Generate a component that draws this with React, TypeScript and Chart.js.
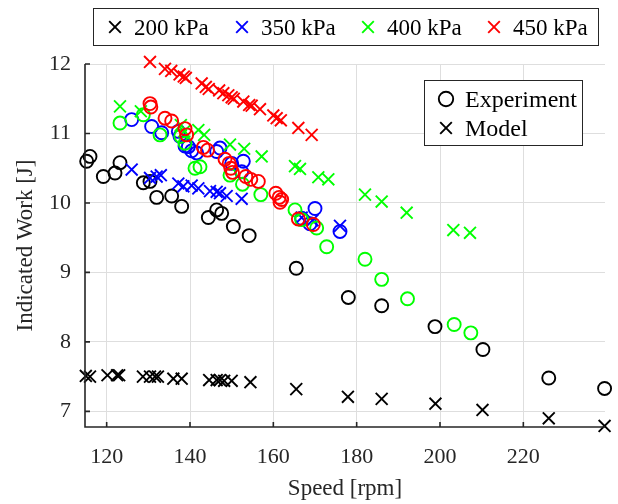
import React, { useEffect, useRef } from "react";
import { Chart, registerables } from "chart.js";

Chart.register(...registerables);

const FONT = '"Liberation Serif", "Times New Roman", serif';
const AXIS_COLOR = "#262626";

const xTicks = [120, 140, 160, 180, 200, 220];
const yTicks = [7, 8, 9, 10, 11, 12];
const xTitle = "Speed [rpm]";
const yTitle = "Indicated Work [J]";
const pressureLabels = ["200 kPa", "350 kPa", "400 kPa", "450 kPa"];
const seriesColors = ["#000000", "#0000ff", "#00ff00", "#ff0000"];
const typeLabels = ["Experiment", "Model"];

const speed200Exp = [115.2, 116.0, 119.2, 122.0, 123.2, 128.8, 130.4, 132.0, 135.6, 138.0, 144.4, 146.4, 147.6, 150.4, 154.2, 165.5, 178.0, 186.0, 198.8, 210.3, 226.1, 239.5];
const work200Exp = [10.60, 10.67, 10.38, 10.43, 10.58, 10.29, 10.31, 10.08, 10.10, 9.95, 9.79, 9.90, 9.85, 9.66, 9.53, 9.06, 8.64, 8.52, 8.22, 7.89, 7.48, 7.33];
const speed200Model = [115.0, 116.0, 120.2, 122.5, 123.0, 128.7, 130.4, 131.6, 132.3, 136.0, 138.0, 144.6, 146.4, 147.2, 148.2, 150.0, 154.5, 165.5, 177.9, 186.0, 198.9, 210.2, 226.1, 239.5];
const work200Model = [7.51, 7.50, 7.52, 7.52, 7.52, 7.50, 7.50, 7.50, 7.50, 7.47, 7.47, 7.45, 7.45, 7.45, 7.44, 7.44, 7.42, 7.32, 7.21, 7.18, 7.11, 7.02, 6.90, 6.79];

const speed350Exp = [126.0, 130.8, 133.2, 137.2, 137.6, 138.8, 139.6, 140.4, 141.6, 146.4, 147.2, 150.0, 152.4, 152.8, 166.8, 168.8, 170.0, 176.0];
const work350Exp = [11.20, 11.10, 11.01, 11.03, 10.96, 10.82, 10.81, 10.75, 10.72, 10.74, 10.79, 10.57, 10.45, 10.60, 9.78, 9.70, 9.92, 9.59];
const speed350Model = [126.0, 130.4, 132.0, 133.0, 137.2, 138.4, 140.4, 142.0, 144.8, 146.4, 147.2, 148.8, 152.4, 166.8, 169.4, 176.0];
const work350Model = [10.48, 10.36, 10.38, 10.40, 10.28, 10.24, 10.25, 10.21, 10.17, 10.16, 10.14, 10.10, 10.06, 9.79, 9.75, 9.67];

const speed400Exp = [123.2, 128.8, 132.8, 137.8, 138.8, 141.2, 142.4, 149.6, 152.6, 157.0, 165.2, 166.8, 170.4, 172.8, 182.0, 186.0, 192.2, 203.4, 207.4];
const work400Exp = [11.15, 11.27, 10.98, 10.96, 10.86, 10.50, 10.52, 10.40, 10.27, 10.12, 9.90, 9.76, 9.64, 9.37, 9.19, 8.90, 8.62, 8.25, 8.13];
const speed400Model = [123.2, 128.2, 137.8, 138.6, 142.0, 143.4, 149.6, 153.0, 157.2, 165.2, 166.4, 170.8, 173.2, 182.0, 186.0, 192.0, 203.2, 207.2];
const work400Model = [11.39, 11.32, 11.12, 11.03, 11.05, 10.98, 10.84, 10.78, 10.67, 10.53, 10.49, 10.37, 10.34, 10.12, 10.02, 9.86, 9.61, 9.57];

const speed450Exp = [130.4, 130.6, 134.0, 135.6, 138.8, 139.2, 143.2, 144.2, 148.4, 149.4, 149.8, 150.2, 153.4, 154.6, 156.4, 160.6, 161.4, 161.6, 162.0, 166.0, 169.6];
const work450Exp = [11.43, 11.38, 11.22, 11.18, 11.07, 10.98, 10.80, 10.76, 10.63, 10.57, 10.50, 10.44, 10.38, 10.34, 10.31, 10.14, 10.08, 10.01, 10.05, 9.77, 9.69];
const speed450Model = [130.4, 134.0, 135.5, 137.5, 138.5, 139.0, 142.8, 143.8, 144.5, 147.0, 148.0, 149.2, 150.0, 150.5, 152.8, 154.2, 154.8, 156.8, 160.0, 160.8, 161.8, 166.0, 169.2];
const work450Model = [12.03, 11.93, 11.90, 11.85, 11.82, 11.80, 11.72, 11.67, 11.64, 11.62, 11.58, 11.55, 11.52, 11.50, 11.46, 11.41, 11.40, 11.35, 11.26, 11.22, 11.19, 11.08, 10.98];

const X_MIN = 114.8;
const X_MAX = 239.6;
const Y_MIN = 6.775;
const Y_MAX = 12;

const CIRCLE_R = 6.5;
const CROSS_R = 8.4;
const MARK_W = 1.9;

const toPoints = (xs: number[], ys: number[]) => xs.map((v, i) => ({ x: v, y: ys[i] }));

const groups = [
  [speed200Exp, work200Exp, speed200Model, work200Model],
  [speed350Exp, work350Exp, speed350Model, work350Model],
  [speed400Exp, work400Exp, speed400Model, work400Model],
  [speed450Exp, work450Exp, speed450Model, work450Model],
];

function drawCross(ctx: CanvasRenderingContext2D, x: number, y: number, h: number) {
  ctx.beginPath();
  ctx.moveTo(x - h, y - h);
  ctx.lineTo(x + h, y + h);
  ctx.moveTo(x + h, y - h);
  ctx.lineTo(x - h, y + h);
  ctx.stroke();
}

const decorPlugin = {
  id: "decor",
  beforeDraw(chart: any) {
    const { ctx, width, height } = chart;
    ctx.save();
    ctx.fillStyle = "#ffffff";
    ctx.fillRect(0, 0, width, height);
    ctx.restore();
  },
  afterDraw(chart: any) {
    const { ctx, chartArea, scales } = chart;
    const { left, right, top, bottom } = chartArea;
    ctx.save();
    // axes
    ctx.strokeStyle = AXIS_COLOR;
    ctx.lineWidth = 1.6;
    ctx.beginPath();
    ctx.moveTo(left, top);
    ctx.lineTo(left, bottom);
    ctx.lineTo(right, bottom);
    ctx.stroke();
    ctx.beginPath();
    for (const v of xTicks) {
      const px = scales.x.getPixelForValue(v);
      ctx.moveTo(px, bottom);
      ctx.lineTo(px, bottom - 5);
    }
    for (const v of yTicks) {
      const py = scales.y.getPixelForValue(v);
      ctx.moveTo(left, py);
      ctx.lineTo(left + 5, py);
    }
    ctx.stroke();

    // top legend
    ctx.fillStyle = "#ffffff";
    ctx.fillRect(93.5, 8.5, 505, 37);
    ctx.strokeStyle = AXIS_COLOR;
    ctx.lineWidth = 1;
    ctx.strokeRect(93.5, 8.5, 505, 37);
    ctx.font = `23px ${FONT}`;
    ctx.textBaseline = "alphabetic";
    ctx.textAlign = "left";
    const markerX = [115, 242, 368, 494];
    pressureLabels.forEach((lab, i) => {
      ctx.strokeStyle = seriesColors[i];
      ctx.lineWidth = MARK_W;
      drawCross(ctx, markerX[i], 27, 5.8);
      ctx.fillStyle = "#000000";
      ctx.fillText(lab, markerX[i] + 19, 35);
    });

    // inner legend
    ctx.fillStyle = "#ffffff";
    ctx.fillRect(424.5, 80.5, 158, 65);
    ctx.strokeStyle = AXIS_COLOR;
    ctx.lineWidth = 1;
    ctx.strokeRect(424.5, 80.5, 158, 65);
    ctx.strokeStyle = "#000000";
    ctx.lineWidth = MARK_W;
    ctx.beginPath();
    ctx.arc(446, 99, 7.2, 0, Math.PI * 2);
    ctx.stroke();
    drawCross(ctx, 446, 128, 5.8);
    ctx.fillStyle = "#000000";
    ctx.font = `24px ${FONT}`;
    ctx.fillText(typeLabels[0], 465, 107);
    ctx.fillText(typeLabels[1], 465, 136);
    ctx.restore();
  },
};

export default function App() {
  const ref = useRef<HTMLCanvasElement | null>(null);

  useEffect(() => {
    const canvas = ref.current;
    if (!canvas) return;
    const datasets: any[] = [];
    groups.forEach((g, i) => {
      datasets.push({
        label: `${pressureLabels[i]} ${typeLabels[0]}`,
        data: toPoints(g[0], g[1]),
        pointStyle: "circle",
        pointRadius: CIRCLE_R,
        pointBorderWidth: MARK_W,
        borderColor: seriesColors[i],
        pointBorderColor: seriesColors[i],
        pointBackgroundColor: "rgba(0,0,0,0)",
        backgroundColor: "rgba(0,0,0,0)",
        showLine: false,
        clip: false,
        order: 20 - 2 * i,
      });
      datasets.push({
        label: `${pressureLabels[i]} ${typeLabels[1]}`,
        data: toPoints(g[2], g[3]),
        pointStyle: "crossRot",
        pointRadius: CROSS_R,
        pointBorderWidth: MARK_W,
        borderColor: seriesColors[i],
        pointBorderColor: seriesColors[i],
        pointBackgroundColor: seriesColors[i],
        backgroundColor: seriesColors[i],
        showLine: false,
        clip: false,
        order: 19 - 2 * i,
      });
    });

    const chart = new Chart(canvas, {
      type: "scatter",
      data: { datasets },
      plugins: [decorPlugin],
      options: {
        animation: false,
        responsive: false,
        devicePixelRatio: 1,
        events: [],
        layout: { padding: { top: 64, right: 13, left: 0, bottom: 0 } },
        plugins: { legend: { display: false }, tooltip: { enabled: false } },
        scales: {
          x: {
            type: "linear",
            min: X_MIN,
            max: X_MAX,
            afterBuildTicks: (s: any) => {
              s.ticks = xTicks.map((v) => ({ value: v }));
            },
            afterFit: (s: any) => {
              s.height = 77;
            },
            ticks: {
              color: AXIS_COLOR,
              font: { family: FONT, size: 22 },
              padding: 17,
              maxRotation: 0,
              autoSkip: false,
            },
            grid: { color: "#dedede", lineWidth: 1, drawTicks: false },
            border: { display: false },
            title: {
              display: true,
              text: xTitle,
              color: AXIS_COLOR,
              font: { family: FONT, size: 23 },
              padding: { top: 0, bottom: 1 },
            },
          },
          y: {
            type: "linear",
            min: Y_MIN,
            max: Y_MAX,
            afterBuildTicks: (s: any) => {
              s.ticks = yTicks.map((v) => ({ value: v }));
            },
            afterFit: (s: any) => {
              s.width = 85;
            },
            ticks: {
              color: AXIS_COLOR,
              font: { family: FONT, size: 22 },
              padding: 14,
              autoSkip: false,
            },
            grid: { color: "#dedede", lineWidth: 1, drawTicks: false },
            border: { display: false },
            title: {
              display: true,
              text: yTitle,
              color: AXIS_COLOR,
              font: { family: FONT, size: 23 },
              padding: { top: 12, bottom: 0 },
            },
          },
        },
      },
    } as any);
    return () => chart.destroy();
  }, []);

  return (
    <div style={{ position: "fixed", left: 0, top: 0, width: 618, height: 504, background: "#fff" }}>
      <canvas ref={ref} width={618} height={504} style={{ display: "block", width: 618, height: 504 }} />
    </div>
  );
}
